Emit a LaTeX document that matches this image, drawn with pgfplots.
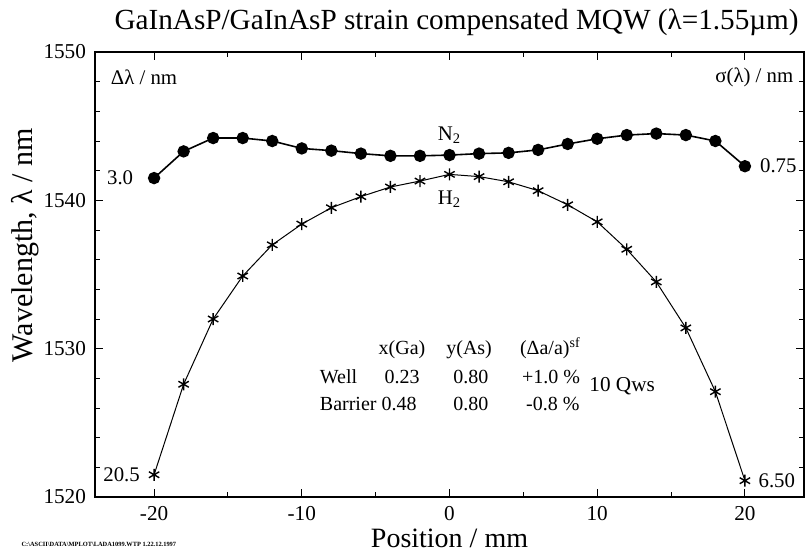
\documentclass[border=0pt]{standalone}
\usepackage{fontspec}
\setmainfont{Liberation Serif}
\usepackage{pgfplots}
\pgfplotsset{compat=1.18}
\begin{document}
\begin{tikzpicture}
\path[use as bounding box] (-47.5pt,-27pt) rectangle (355.5pt,248.5pt);
\begin{axis}[
  scale only axis, width=354.5pt, height=222.5pt,
  xmin=-24, xmax=24, ymin=1520, ymax=1550,
  xtick={-20,-10,0,10,20}, xticklabels={-20,-10,0,10,20},
  ytick={1520,1530,1540,1550}, yticklabels={1520,1530,1540,1550},
  minor x tick num=1, minor y tick num=4,
  tick align=inside, tick pos=both,
  major tick length=4pt, minor tick length=2.5pt,
  axis line style={line width=0.8pt},
  tick style={line width=0.5pt, black},
  ticklabel style={font=\fontsize{10.6}{12}\selectfont},
  xticklabel style={yshift=-1pt},
  yticklabel style={xshift=-1pt},
  xlabel={Position / mm},
  ylabel={Wavelength, λ / nm},
  title={GaInAsP/GaInAsP strain compensated MQW (λ=1.55µm)},
  every axis x label/.style={at={(axis description cs:0.5,-0.0921)}, anchor=center, font=\fontsize{14}{16}\selectfont},
  every axis y label/.style={at={(axis description cs:-0.0987,0.566)}, rotate=90, anchor=center, font=\fontsize{15}{17}\selectfont},
  every axis title/.style={at={(axis description cs:0.51,1.0674)}, anchor=center, font=\fontsize{14.6}{16}\selectfont},
  clip=false,
]
% N2 anneal
\addplot[black, line width=0.8pt, mark=*, mark size=2.7pt] coordinates {
  (-20,1541.5) (-18,1543.3) (-16,1544.2) (-14,1544.2) (-12,1544.0) (-10,1543.5)
  (-8,1543.35) (-6,1543.15) (-4,1543.0) (-2,1543.0) (0,1543.05) (2,1543.15)
  (4,1543.2) (6,1543.4) (8,1543.8) (10,1544.15) (12,1544.4) (14,1544.5)
  (16,1544.4) (18,1544.0) (20,1542.3)};
% H2 anneal
\addplot[black, line width=0.5pt, mark=asterisk, mark size=3pt, mark options={line width=0.7pt}] coordinates {
  (-20,1521.5) (-18,1527.6) (-16,1532.0) (-14,1534.9) (-12,1537.0) (-10,1538.4)
  (-8,1539.5) (-6,1540.25) (-4,1540.9) (-2,1541.3) (0,1541.75) (2,1541.6)
  (4,1541.25) (6,1540.65) (8,1539.7) (10,1538.55) (12,1536.7) (14,1534.5)
  (16,1531.4) (18,1527.1) (20,1521.1)};

\begin{scope}[every node/.style={font=\fontsize{10.4}{12}\selectfont, inner sep=0pt}]
\node[anchor=west] at (axis cs:-22.95,1548.3) {Δλ / nm};
\node[anchor=east] at (axis cs:23.3,1548.3) {σ(λ) / nm};
\node at (axis cs:0,1544.4) {N\textsubscript{2}};
\node at (axis cs:0,1540.1) {H\textsubscript{2}};
\node at (axis cs:-22.3,1541.5) {3.0};
\node[anchor=west] at (axis cs:21.0,1542.3) {0.75};
\node at (axis cs:-22.2,1521.5) {20.5};
\node[anchor=west] at (axis cs:20.9,1521.1) {6.50};
\end{scope}

\begin{scope}[every node/.style={font=\fontsize{10}{12}\selectfont, inner sep=0pt, anchor=base west}]
\node at (axis cs:-4.82,1529.58) {x(Ga)};
\node at (axis cs:-0.24,1529.58) {y(As)};
\node at (axis cs:4.75,1529.58) {(Δa/a)\textsuperscript{sf}};
\node at (axis cs:-8.8,1527.65) {Well};
\node at (axis cs:-4.42,1527.65) {0.23};
\node at (axis cs:0.24,1527.65) {0.80};
\node at (axis cs:4.89,1527.65) {+1.0 \%};
\node at (axis cs:-8.8,1525.8) {Barrier 0.48};
\node at (axis cs:0.24,1525.8) {0.80};
\node at (axis cs:5.16,1525.8) {-0.8 \%};
\node[anchor=base east, font=\fontsize{10.6}{12}\selectfont] at (axis cs:13.93,1527.1) {10 Qws};
\node[anchor=west, font=\fontsize{3.2}{3.5}\selectfont\bfseries] at (axis cs:-29.0,1516.8) {C:\textbackslash ASCII\textbackslash DATA\textbackslash MPLOT\textbackslash LADA1099.WTP 1.22.12.1997};
\end{scope}
\end{axis}
\end{tikzpicture}
\end{document}
